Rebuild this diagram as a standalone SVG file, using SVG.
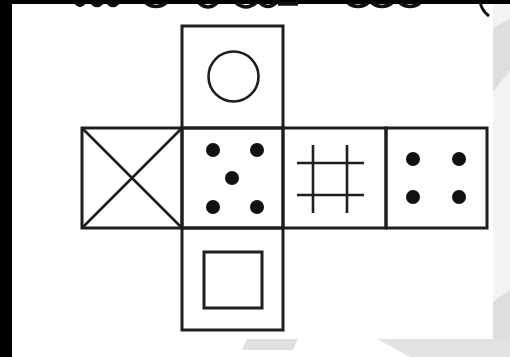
<svg xmlns="http://www.w3.org/2000/svg" width="510" height="357" viewBox="0 0 510 357">
<style>
.ln{fill:none;stroke:#1e1e1e;stroke-width:3;stroke-linecap:square}
.thin{fill:none;stroke:#1e1e1e;stroke-width:2.6}
.dot{fill:#111}
.frag{fill:none;stroke:#111;stroke-width:3.5}
</style>
<rect x="0" y="0" width="510" height="357" fill="#000"/>
<rect x="12" y="4" width="498" height="353" fill="#fff"/>
<g id="background-shades">
<rect x="493" y="4" width="17" height="353" fill="#f3f3f3"/>
<polygon points="493,28 510,19 510,70 493,92" fill="#dedede"/>
<polygon points="493,302 510,290 510,357 493,357" fill="#dedede"/>
<polygon points="377,339 510,339 510,357 410,357" fill="#e2e2e2"/>
<polygon points="247,339 298,339 293,350 242,350" fill="#e0e0e0"/>
</g>
<g id="top-cut-text">
<path class="frag" d="M76,3 Q80,8 84,3 M92,3 Q97,8 102,3 M108,3 Q113,8 118,3 M146,3 Q156,10 166,3 M199,3 Q208,11 217,3 M236,3 Q246,11 256,3 M260,3 Q268,10 276,3 M278,4 L298,4 M348,3 Q358,10 368,3 M372,3 Q382,10 392,3 M400,3 Q410,10 420,3"/>
<path d="M480,2 Q482,11 489,16" fill="none" stroke="#111" stroke-width="3"/>
</g>
<g id="face-top">
<rect class="ln" x="182" y="26" width="101" height="102"/>
<circle class="thin" cx="233.5" cy="76.5" r="25"/>
</g>
<g id="face-left">
<rect class="ln" x="82" y="128" width="100" height="100"/>
<path class="thin" d="M82,128 L182,228 M182,128 L82,228"/>
</g>
<g id="face-center">
<rect class="ln" x="182" y="128" width="101" height="100"/>
<circle class="dot" cx="213" cy="150" r="7"/>
<circle class="dot" cx="257" cy="150" r="7"/>
<circle class="dot" cx="232" cy="178" r="7"/>
<circle class="dot" cx="213" cy="207" r="7"/>
<circle class="dot" cx="257" cy="207" r="7"/>
</g>
<g id="face-hash">
<rect class="ln" x="283" y="128" width="103" height="100"/>
<path class="thin" d="M313,145 L313,213 M347,145 L347,213 M297,163 L364,163 M297,195 L364,195"/>
</g>
<g id="face-right">
<rect class="ln" x="386" y="128" width="101" height="100"/>
<circle class="dot" cx="413" cy="159" r="7"/>
<circle class="dot" cx="459" cy="159" r="7"/>
<circle class="dot" cx="413" cy="197" r="7"/>
<circle class="dot" cx="459" cy="197" r="7"/>
</g>
<g id="face-bottom">
<rect class="ln" x="182" y="228" width="101" height="102"/>
<rect class="ln" x="204" y="252" width="58" height="56"/>
</g>
<g id="connectors"></g>
</svg>
